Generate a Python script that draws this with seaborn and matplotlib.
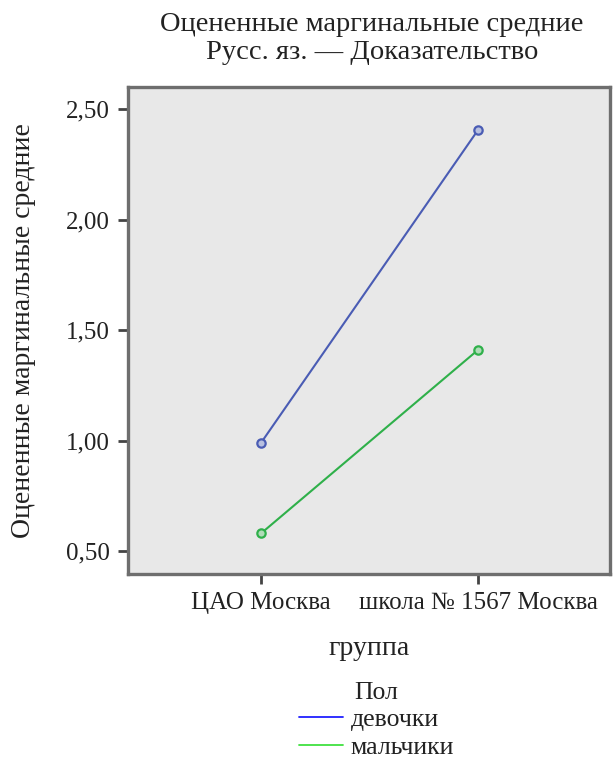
import pandas as pd
import numpy as np
import matplotlib
matplotlib.use('Agg')
import matplotlib.pyplot as plt
from matplotlib.lines import Line2D
from matplotlib.ticker import FuncFormatter
import seaborn as sns

# Data
groups = ['ЦАО Москва', 'школа № 1567 Москва']
sexes = ['девочки', 'мальчики']
girls = [0.99, 2.405]
boys = [0.58, 1.41]

df = pd.DataFrame({
    'группа': groups * 2,
    'Пол': [sexes[0]] * 2 + [sexes[1]] * 2,
    'mean': girls + boys,
})
df['x'] = df['группа'].map({g: i for i, g in enumerate(groups)})

sns.set_style('white')
plt.rcParams['font.family'] = ['Liberation Serif', 'DejaVu Serif']

fig = plt.figure(figsize=(6.16, 7.67), dpi=100)
ax = fig.add_axes([0.208, 0.2516, 0.782, 0.635])
ax.set_facecolor('#e8e8e8')

line_colors = ['#4a5cb4', '#2fb04a']
sns.lineplot(data=df, x='x', y='mean', hue='Пол', palette=line_colors,
             linewidth=1.5, legend=False, ax=ax)
# small markers in the line colour
face_colors = ['#b8c0e0', '#b0dcb8']
for (sex, sub), c, fc in zip(df.groupby('Пол', sort=False), line_colors, face_colors):
    ax.plot(sub['x'], sub['mean'], ls='none', marker='o', markersize=6,
            markeredgewidth=1.6, markeredgecolor=c, markerfacecolor=fc)

ax.set_xlim(-0.613, 1.608)
ax.set_ylim(0.396, 2.60)
ax.set_xticks(range(len(groups)))
ax.set_xticklabels(groups)
ax.set_yticks([0.5, 1.0, 1.5, 2.0, 2.5])
ax.yaxis.set_major_formatter(FuncFormatter(lambda v, p: f'{v:.2f}'.replace('.', ',')))
ax.tick_params(axis='both', labelsize=18, length=7, width=2, color='#444444',
               labelcolor='#222222', direction='out', pad=6)
ax.tick_params(axis='both', left=True, bottom=True)

for s in ax.spines.values():
    s.set_color('#6e6e6e')
    s.set_linewidth(2.4)

ax.set_xlabel('группа', fontsize=20, color='#222222', labelpad=16)
ax.set_ylabel('Оцененные маргинальные средние', fontsize=20, color='#222222', labelpad=22)

fig.text(0.604, 1 - 12 / 767, 'Оцененные маргинальные средние\nРусс. яз. — Доказательство',
         ha='center', va='top', fontsize=20.5, color='#222222', linespacing=1.15,
         multialignment='center')

handles = [Line2D([], [], color='#2020ff', lw=1.3), Line2D([], [], color='#40e040', lw=1.3)]
leg = fig.legend(handles, sexes, title='Пол', loc='upper center', bbox_to_anchor=(0.611, 0.131),
                 frameon=False, fontsize=18.5, title_fontsize=18.5, handlelength=1.7,
                 handletextpad=0.3, labelspacing=0.17, borderpad=0.1)
for t in leg.get_texts():
    t.set_color('#222222')
leg.get_title().set_color('#222222')

fig.savefig('out.png', dpi=100)
